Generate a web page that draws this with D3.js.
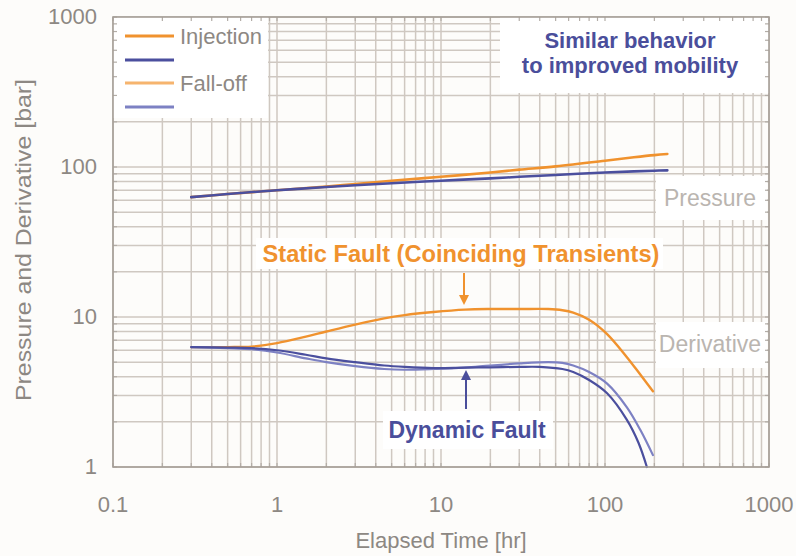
<!DOCTYPE html>
<meta charset="utf-8">
<style>
  body { margin: 0; background: #fdfcfa; }
  svg { font-family: "Liberation Sans", Arial, Helvetica, sans-serif; }
  .grid line { stroke: #cfc8c1; stroke-width: 1.5; }
  .tick-label { fill: #8d8883; font-size: 22px; }
  .axis-title { fill: #8d8883; font-size: 22px; }
  .box { fill: #ffffff; }
  .tag { fill: #bab5b0; font-size: 23px; }
  .curve { fill: none; stroke-linejoin: round; stroke-linecap: round; }
</style>
<body>
<script src="https://d3js.org/d3.v7.min.js"></script>
<script>

var width = 796,
    height = 556;

// axes
var xTicks = [0.1, 1, 10, 100, 1000];
var yTicks = [1, 10, 100, 1000];

// pressure (hr, bar)
var pTime    = [0.3, 0.5, 1, 2, 3, 5, 10, 20, 30, 50, 100, 150, 200, 240];
var pStatic  = [63, 66, 70, 74, 77, 81, 86, 92, 96, 101, 110, 116, 120, 122];
var pDynamic = [63, 66, 70, 73.5, 75.5, 78, 81, 84, 86, 88.5, 92, 93.5, 94.5, 95];

// derivative (hr, bar)
var dTime      = [0.3, 0.5, 0.7, 1, 1.5, 2, 3, 4.5, 6, 9, 14, 20, 30, 45, 55, 64, 80, 103, 136, 165, 196];
var dStatic    = [6.3, 6.3, 6.35, 6.7, 7.4, 8.0, 8.9, 9.8, 10.3, 10.8, 11.2, 11.3, 11.3, 11.3, 11.1, 10.7, 9.6, 7.7, 5.4, 4.1, 3.2];
var dDynFall   = [6.3, 6.2, 6.1, 5.8, 5.3, 5.0, 4.7, 4.5, 4.45, 4.5, 4.6, 4.75, 4.9, 5.0, 4.95, 4.75, 4.3, 3.6, 2.5, 1.75, 1.2];
var dTimeInj   = [0.3, 0.5, 0.7, 1, 1.5, 2, 3, 4.5, 6, 9, 14, 20, 30, 40, 55, 64, 80, 103, 136, 160, 180];
var dDynInj    = [6.3, 6.25, 6.2, 6.0, 5.6, 5.3, 5.0, 4.75, 4.65, 4.57, 4.6, 4.62, 4.65, 4.65, 4.5, 4.3, 3.8, 3.1, 2.06, 1.45, 1.0];

var orange = "#f0922e",
    orangeLight = "#f6b46e",
    blue = "#4b4f9e",
    blueLight = "#7d81c3",
    textBlue = "#4a4e9b";

var x = d3.scaleLog().domain([0.1, 1000]).range([113, 769]);
var y = d3.scaleLog().domain([1, 1000]).range([467, 17]);

var svg = d3.select("body").append("svg")
    .attr("width", width)
    .attr("height", height);

// grid at every 1..9 per decade
var gx = x.ticks(), gy = y.ticks();
var grid = svg.append("g").attr("class", "grid");
grid.selectAll(".gv").data(gx).enter().append("line")
    .attr("x1", function(d) { return x(d); }).attr("x2", function(d) { return x(d); })
    .attr("y1", y(1000)).attr("y2", y(1));
grid.selectAll(".gh").data(gy).enter().append("line")
    .attr("y1", function(d) { return y(d); }).attr("y2", function(d) { return y(d); })
    .attr("x1", x(0.1)).attr("x2", x(1000));

// white label boxes over grid
var boxes = [
  [113, 17, 155, 101],   // legend
  [500, 17, 269, 76],    // note
  [256, 238, 407, 31],   // static fault
  [383, 411, 170, 38],   // dynamic fault
  [656, 176, 111, 44],   // pressure
  [656, 322, 111, 46]    // derivative
];
svg.selectAll(".box").data(boxes).enter().append("rect")
    .attr("class", "box")
    .attr("x", function(d) { return d[0]; })
    .attr("y", function(d) { return d[1]; })
    .attr("width", function(d) { return d[2]; })
    .attr("height", function(d) { return d[3]; });

// small inside ticks on frame
var tk = svg.append("g").attr("stroke", "#b3ada7").attr("stroke-width", 1.2);
gy.forEach(function(v) {
  tk.append("line").attr("x1", x(0.1)).attr("x2", x(0.1) + 4).attr("y1", y(v)).attr("y2", y(v));
  tk.append("line").attr("x1", x(1000)).attr("x2", x(1000) - 4).attr("y1", y(v)).attr("y2", y(v));
});
gx.forEach(function(v) {
  tk.append("line").attr("y1", y(1000)).attr("y2", y(1000) + 4).attr("x1", x(v)).attr("x2", x(v));
  tk.append("line").attr("y1", y(1)).attr("y2", y(1) - 4).attr("x1", x(v)).attr("x2", x(v));
});

// curves
var line = d3.line()
    .x(function(d) { return x(d[0]); })
    .y(function(d) { return y(d[1]); })
    .curve(d3.curveCatmullRom.alpha(0.5));

function series(t, v) { return t.map(function(d, i) { return [d, v[i]]; }); }

function drawCurve(data, color, w) {
  svg.append("path")
      .attr("class", "curve")
      .attr("d", line(data))
      .attr("stroke", color)
      .attr("stroke-width", w);
}

drawCurve(series(pTime, pStatic), orange, 2.6);
drawCurve(series(pTime, pDynamic), blue, 2.6);
drawCurve(series(dTime, dStatic), orange, 2.4);
drawCurve(series(dTime, dDynFall), blueLight, 2.2);
drawCurve(series(dTimeInj, dDynInj), blue, 2.2);

// frame
svg.append("rect")
    .attr("x", x(0.1)).attr("y", y(1000))
    .attr("width", x(1000) - x(0.1)).attr("height", y(1) - y(1000))
    .attr("fill", "none").attr("stroke", "#a59e97").attr("stroke-width", 1.6);

// tick labels
svg.selectAll(".xl").data(xTicks).enter().append("text")
    .attr("class", "tick-label")
    .attr("x", function(d) { return x(d); })
    .attr("y", 512)
    .attr("text-anchor", "middle")
    .text(function(d) { return d; });
svg.selectAll(".yl").data(yTicks).enter().append("text")
    .attr("class", "tick-label")
    .attr("x", 97)
    .attr("y", function(d) { return y(d) + 7; })
    .attr("text-anchor", "end")
    .text(function(d) { return d; });

// axis titles
svg.append("text").attr("class", "axis-title")
    .attr("x", 441).attr("y", 548).attr("text-anchor", "middle")
    .text("Elapsed Time [hr]");
svg.append("text").attr("class", "axis-title")
    .attr("transform", "translate(31,240) rotate(-90)")
    .attr("text-anchor", "middle")
    .attr("textLength", 322).attr("lengthAdjust", "spacingAndGlyphs")
    .text("Pressure and Derivative [bar]");

// legend
var legend = [
  { y: 36, color: orange, label: "Injection" },
  { y: 60, color: blue, label: "" },
  { y: 83, color: orangeLight, label: "Fall-off" },
  { y: 107, color: blueLight, label: "" }
];
legend.forEach(function(d) {
  svg.append("line").attr("x1", 125).attr("x2", 174)
      .attr("y1", d.y).attr("y2", d.y)
      .attr("stroke", d.color).attr("stroke-width", 3);
  if (d.label) {
    svg.append("text").attr("class", "axis-title")
        .attr("x", 180).attr("y", d.y + 8)
        .attr("font-size", "23px")
        .text(d.label);
  }
});

// notes
svg.append("text").attr("x", 630).attr("y", 48).attr("text-anchor", "middle")
    .attr("fill", textBlue).attr("font-weight", "bold").attr("font-size", "22px")
    .text("Similar behavior");
svg.append("text").attr("x", 630).attr("y", 73).attr("text-anchor", "middle")
    .attr("fill", textBlue).attr("font-weight", "bold").attr("font-size", "22px")
    .text("to improved mobility");

svg.append("text").attr("x", 461).attr("y", 262).attr("text-anchor", "middle")
    .attr("fill", orange).attr("font-weight", "bold").attr("font-size", "23px")
    .attr("textLength", 397).attr("lengthAdjust", "spacingAndGlyphs")
    .text("Static Fault (Coinciding Transients)");
svg.append("text").attr("x", 467).attr("y", 438).attr("text-anchor", "middle")
    .attr("fill", textBlue).attr("font-weight", "bold").attr("font-size", "23px")
    .text("Dynamic Fault");

svg.append("text").attr("class", "tag").attr("x", 710).attr("y", 206)
    .attr("text-anchor", "middle").text("Pressure");
svg.append("text").attr("class", "tag").attr("x", 710).attr("y", 352)
    .attr("text-anchor", "middle").text("Derivative");

// arrows
function arrow(x0, y0, y1, color) {
  var dir = y1 > y0 ? 1 : -1;
  svg.append("line").attr("x1", x0).attr("x2", x0)
      .attr("y1", y0).attr("y2", y1 - dir * 8)
      .attr("stroke", color).attr("stroke-width", 2);
  svg.append("path")
      .attr("d", "M" + (x0 - 5) + "," + (y1 - dir * 10) + "L" + x0 + "," + y1 + "L" + (x0 + 5) + "," + (y1 - dir * 10) + "Z")
      .attr("fill", color);
}
arrow(464, 273, 305, orange);
arrow(466, 409, 370, textBlue);

</script>
</body>
</html>
